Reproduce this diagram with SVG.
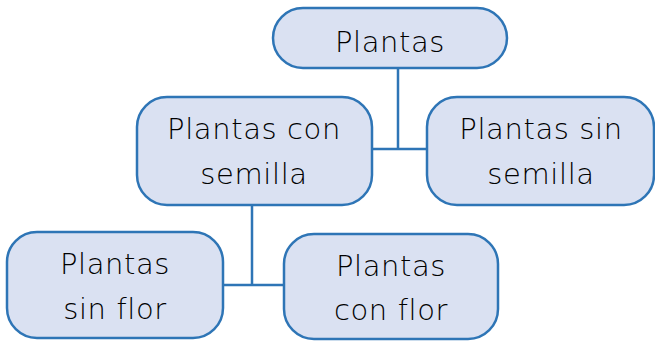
<svg xmlns="http://www.w3.org/2000/svg" width="655" height="341" viewBox="0 0 655 341">
<style>
.box{fill:#dae1f2;stroke:#2e75b6;stroke-width:2.5}
.t{font-family:"DejaVu Sans",sans-serif;font-size:29px;font-weight:300;letter-spacing:0.6px;fill:#000;text-anchor:middle}
.c{stroke:#2e75b6;stroke-width:2.5;fill:none}
</style>
<rect width="655" height="341" fill="#fff"/>
<g id="connectors">
<path class="c" d="M398,68 V149 M371,149 H427"/>
<path class="c" d="M252,205 V285 M222,285 H284"/>
</g>
<g id="n-plantas">
<rect class="box" x="273" y="8" width="234" height="60" rx="30"/>
<text class="t" x="390" y="52">Plantas</text>
</g>
<g id="n-con-semilla">
<rect class="box" x="137" y="97" width="235" height="108" rx="30"/>
<text class="t" x="254" y="139">Plantas con</text>
<text class="t" x="254" y="184">semilla</text>
</g>
<g id="n-sin-semilla">
<rect class="box" x="427" y="97" width="227" height="108" rx="30"/>
<text class="t" x="541" y="139">Plantas sin</text>
<text class="t" x="541" y="184">semilla</text>
</g>
<g id="n-sin-flor">
<rect class="box" x="7" y="232" width="216" height="106" rx="30"/>
<text class="t" x="115" y="274">Plantas</text>
<text class="t" x="115" y="319">sin flor</text>
</g>
<g id="n-con-flor">
<rect class="box" x="284" y="234" width="214" height="105" rx="30"/>
<text class="t" x="391" y="276">Plantas</text>
<text class="t" x="391" y="320">con flor</text>
</g>
</svg>
